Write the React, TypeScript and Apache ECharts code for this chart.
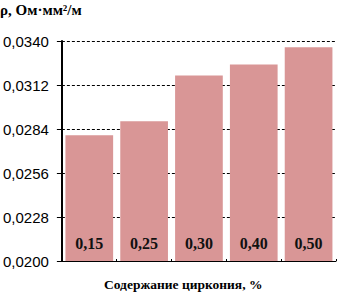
import React, { useEffect, useRef } from "react";
import * as echarts from "echarts";

const categories = ["0,15", "0,25", "0,30", "0,40", "0,50"];
const resistivity = [0.028, 0.0289, 0.0318, 0.0325, 0.0336];
const yMin = 0.02;
const yMax = 0.034;
const yStep = 0.0028;

export default function App() {
  const ref = useRef<HTMLDivElement>(null);
  useEffect(() => {
    const chart = echarts.init(ref.current!, null, { renderer: "svg" });
    chart.setOption({
      animation: false,
      backgroundColor: "#ffffff",
      title: [
        {
          text: "ρ, Ом·мм²/м",
          left: 0,
          top: 2,
          padding: 0,
          textStyle: { fontFamily: "Liberation Serif", fontWeight: "bold", fontSize: 15, color: "#000" },
        },
        {
          text: "Содержание циркония, %",
          left: 104,
          top: 277,
          padding: 0,
          textStyle: { fontFamily: "Liberation Serif", fontWeight: "bold", fontSize: 13.5, color: "#000" },
        },
      ],
      grid: { left: 61, right: 2, top: 41, bottom: 34, containLabel: false },
      xAxis: {
        type: "category",
        data: categories,
        axisLine: { show: true, lineStyle: { color: "#000", width: 1 } },
        axisTick: { show: true, alignWithLabel: false, length: 2, inside: true, lineStyle: { color: "#000" } },
        axisLabel: { show: false },
        splitLine: { show: false },
      },
      yAxis: {
        type: "value",
        min: yMin,
        max: yMax,
        interval: yStep,
        axisLine: { show: true, lineStyle: { color: "#000", width: 2 } },
        axisTick: { show: true, length: 5, lineStyle: { color: "#000", width: 1 } },
        axisLabel: {
          margin: 13,
          fontFamily: "Liberation Sans",
          fontSize: 15,
          color: "#000",
          formatter: (v: number) => v.toFixed(4).replace(".", ","),
        },
        splitLine: { show: true, lineStyle: { color: "#000", width: 1, type: [3, 2] } },
      },
      series: [
        {
          type: "bar",
          data: resistivity,
          barCategoryGap: "13%",
          itemStyle: { color: "#d99696" },
          label: {
            show: true,
            position: "insideBottom",
            distance: 10,
            formatter: (p: any) => p.name,
            fontFamily: "Liberation Serif",
            fontWeight: "bold",
            fontSize: 16,
            color: "#111",
          },
        },
      ],
    });
    return () => chart.dispose();
  }, []);
  return <div ref={ref} style={{ width: 338, height: 295, position: "absolute", left: 0, top: 0 }} />;
}
